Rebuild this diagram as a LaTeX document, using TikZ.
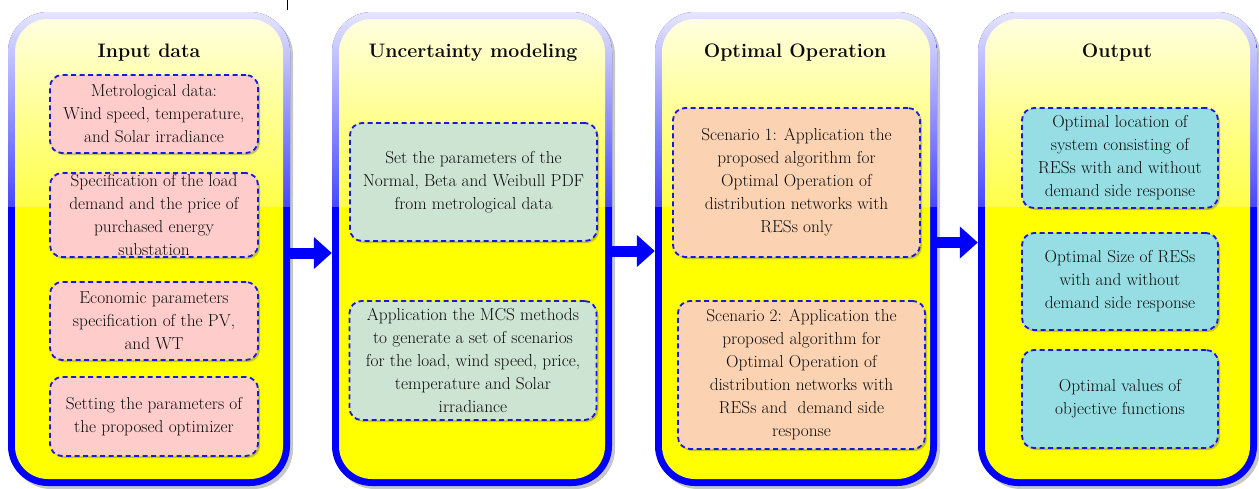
\documentclass[tikz,border=0pt]{standalone}
\usetikzlibrary{arrows.meta,shadows,fadings}
\definecolor{pblue}{RGB}{0,0,255}
\definecolor{pyel}{RGB}{255,255,0}
\definecolor{dblue}{RGB}{25,25,225}
\definecolor{cpink}{RGB}{255,204,204}
\definecolor{cgreen}{RGB}{205,228,210}
\definecolor{cpeach}{RGB}{251,210,178}
\definecolor{ccyan}{RGB}{150,222,228}
\definecolor{ink}{RGB}{10,10,10}
\tikzfading[name=glossfade, top color=transparent!10, bottom color=transparent!72]
\newcommand\boxfont{\fontsize{17.3}{23}\selectfont}
\newcommand\ttlfont{\fontsize{19.5}{24}\selectfont\bfseries}
\begin{document}
\begin{tikzpicture}[x=1pt,y=-1pt,
 panel/.style={rectangle, rounded corners=40pt, fill=pblue, minimum height=474pt, inner sep=0pt,
   path picture={
     \fill[pyel, rounded corners=33pt] ([shift={(7pt,7pt)}]path picture bounding box.south west) rectangle ([shift={(-7pt,-7pt)}]path picture bounding box.north east);
     \fill[white, sharp corners, path fading=glossfade] (path picture bounding box.north west) rectangle ([yshift=-195pt]path picture bounding box.north east);
   }},
 ttl/.style={font=\ttlfont, text=ink, inner sep=0pt},
 infobox/.style={rectangle, rounded corners=12pt, draw=dblue, line width=1.8pt,
   dash pattern=on 5pt off 3.5pt, align=center, inner sep=1pt, font=\boxfont, text=ink,
   drop shadow={shadow xshift=2pt, shadow yshift=-2pt, fill=black!45!yellow, opacity=0.55}},
 flow/.style={draw=pblue, line width=11pt, -{Triangle[width=31pt,length=18pt]}}]

\useasboundingbox[fill=white] (0,0) rectangle (1259,488);
\draw[line width=0.8pt] (287,0) -- (287,10);

% panel shadows
\foreach \a/\b in {8/290, 332/612, 655/937, 978/1257}
  \fill[black, opacity=0.22, rounded corners=40pt] (\a+3,15) rectangle (\b+3,489);

% panels
\node[panel, minimum width=282pt] (p1) at (149,249) {};
\node[panel, minimum width=280pt] (p2) at (472,249) {};
\node[panel, minimum width=282pt] (p3) at (796,249) {};
\node[panel, minimum width=279pt] (p4) at (1117.5,249) {};

% titles
\node[ttl] (t1) at (149,53) {Input data};
\node[ttl] (t2) at (473,53) {Uncertainty modeling};
\node[ttl] (t3) at (795,53) {Optimal Operation};
\node[ttl] (t4) at (1117,53) {Output};

% panel 1 boxes
\node[infobox, fill=cpink, minimum width=208pt, minimum height=78pt] (a1) at (154,114)
  {Metrological data:\\ Wind speed, temperature,\\ and Solar irradiance};
\node[infobox, fill=cpink, minimum width=208pt, minimum height=84pt] (a2) at (154,215)
  {Specification of the load\\ demand and the price of\\ purchased energy\\ substation};
\node[infobox, fill=cpink, minimum width=208pt, minimum height=78pt] (a3) at (154,321)
  {Economic parameters\\ specification of the PV,\\ and WT};
\node[infobox, fill=cpink, minimum width=208pt, minimum height=79pt] (a4) at (154,416.5)
  {Setting the parameters of\\ the proposed optimizer};

% panel 2 boxes
\node[infobox, fill=cgreen, minimum width=247pt, minimum height=118pt] (b1) at (473.5,182)
  {Set the parameters of the\\ Normal, Beta and Weibull PDF\\ from metrological data};
\node[infobox, fill=cgreen, minimum width=247pt, minimum height=119pt] (b2) at (473,360.5)
  {Application the MCS methods\\ to generate a set of scenarios\\ for the load, wind speed, price,\\ temperature and Solar\\ irradiance};

% panel 3 boxes
\node[infobox, fill=cpeach, minimum width=247pt, minimum height=149pt] (c1) at (796.5,182.5)
  {Scenario 1: Application the\\ proposed algorithm for\\ Optimal Operation of\\ distribution networks with\\ RESs only};
\node[infobox, fill=cpeach, minimum width=247pt, minimum height=148pt] (c2) at (801.5,375)
  {Scenario 2: Application the\\ proposed algorithm for\\ Optimal Operation of\\ distribution networks with\\ RESs and\ \ demand side\\ response};

% panel 4 boxes
\node[infobox, fill=ccyan, minimum width=196pt, minimum height=100pt] (d1) at (1120,158)
  {Optimal location of\\ system consisting of\\ RESs with and without\\ demand side response};
\node[infobox, fill=ccyan, minimum width=196pt, minimum height=97pt] (d2) at (1120,281.5)
  {Optimal Size of RESs\\ with and without\\ demand side response};
\node[infobox, fill=ccyan, minimum width=196pt, minimum height=98pt] (d3) at (1120,399)
  {Optimal values of\\ objective functions};

% arrows
\draw[flow] ([yshift=-4pt]p1.east) -- ([yshift=-4pt]p2.west);
\draw[flow] ([yshift=-2pt]p2.east) -- ([yshift=-2pt]p3.west);
\draw[flow] ([yshift=6.5pt]p3.east) -- ([yshift=6.5pt]p4.west);
\end{tikzpicture}
\end{document}
